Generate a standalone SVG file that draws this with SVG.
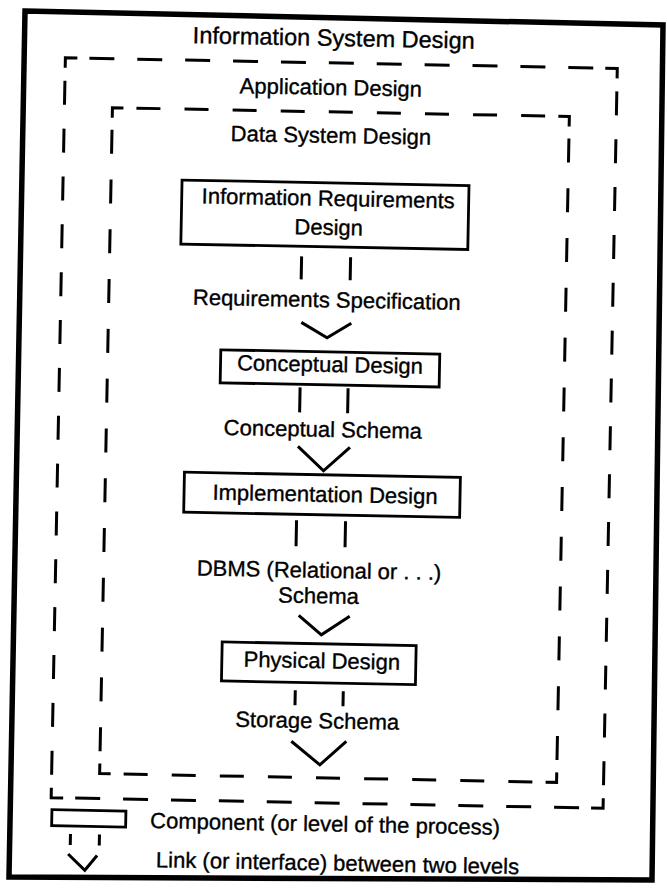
<svg xmlns="http://www.w3.org/2000/svg" width="667" height="891" viewBox="0 0 667 891">
<style>
.frame{fill:none;stroke:#000;stroke-width:5.5;stroke-linejoin:miter}
.dash{fill:none;stroke:#000;stroke-width:3}
.box{fill:#fff;stroke:#000;stroke-width:2.8}
.link{fill:none;stroke:#000;stroke-width:3}
.chev{fill:none;stroke:#000;stroke-width:3;stroke-linejoin:miter}
text{font-family:"Liberation Sans",Arial,Helvetica,sans-serif;font-size:22px;fill:#000;stroke:#000;stroke-width:0.35}
.c{text-anchor:middle}
</style>
<rect width="667" height="891" fill="#fff"/>
<path class="frame" d="M25,11 L663,25 L652,880 L9,877 Z"/>
<g transform="rotate(1.1 333 445)">
  <g id="information-system-design">
    <text class="c" x="326" y="46" style="font-size:23.5px">Information System Design</text>
  </g>
  <g id="application-design">
    <path class="dash" d="M58,73V63H70 M598,63H610V73 M58,793V803H70 M598,803H610V793"/>
    <line class="dash" x1="82" y1="63" x2="586" y2="63" stroke-dasharray="25 22.9"/>
    <line class="dash" x1="82" y1="803" x2="586" y2="803" stroke-dasharray="25 22.9"/>
    <line class="dash" x1="58" y1="86" x2="58" y2="780" stroke-dasharray="24 23.86"/>
    <line class="dash" x1="610" y1="86" x2="610" y2="780" stroke-dasharray="24 23.86"/>
    <text class="c" x="324" y="95">Application Design</text>
  </g>
  <g id="data-system-design">
    <path class="dash" d="M106,122V112H117 M552,112H563V122 M106,768V778H117 M552,778H563V768"/>
    <line class="dash" x1="130" y1="112" x2="539" y2="112" stroke-dasharray="24 24.1"/>
    <line class="dash" x1="130" y1="778" x2="539" y2="778" stroke-dasharray="24 24.1"/>
    <line class="dash" x1="106" y1="134" x2="106" y2="756" stroke-dasharray="24 25.8"/>
    <line class="dash" x1="563" y1="134" x2="563" y2="756" stroke-dasharray="24 25.8"/>
    <text class="c" x="325" y="143">Data System Design</text>
  </g>
  <g id="information-requirements-design">
    <rect class="box" x="177" y="183" width="287" height="64"/>
    <text class="c" x="323.5" y="206">Information Requirements</text>
    <text class="c" x="324.5" y="235">Design</text>
  </g>
  <g id="conceptual-design">
    <rect class="box" x="219" y="352" width="219" height="33"/>
    <text class="c" x="328.5" y="372">Conceptual Design</text>
  </g>
  <g id="implementation-design">
    <rect class="box" x="185" y="475" width="276" height="40"/>
    <text class="c" x="326" y="502">Implementation Design</text>
  </g>
  <g id="physical-design">
    <rect class="box" x="226" y="644" width="194" height="39"/>
    <text class="c" x="326" y="668.5">Physical Design</text>
  </g>
  <g id="connectors">
    <path class="link" d="M298,257V280 M347,257V280"/>
    <text class="c" x="324" y="307.5">Requirements Specification</text>
    <path class="chev" d="M299,323L325,338L349,323"/>
    <path class="link" d="M299,388V413 M347,388V413"/>
    <text class="c" x="322.5" y="437">Conceptual Schema</text>
    <path class="chev" d="M298,447L324,471L350,447"/>
    <path class="link" d="M298,521V547 M347,521V547"/>
    <text class="c" x="321.5" y="578">DBMS (Relational or . . .)</text>
    <text class="c" x="321.5" y="603.5">Schema</text>
    <path class="chev" d="M302,616L325,635L353,616"/>
    <path class="link" d="M300,691V706 M348,691V706"/>
    <text class="c" x="322.5" y="728.5">Storage Schema</text>
    <path class="chev" d="M297,742L326,765L352,741"/>
  </g>
  <g id="legend">
    <rect class="box" x="59" y="815" width="74" height="16"/>
    <text x="157.5" y="831.5">Component (or level of the process)</text>
    <path class="link" d="M78,839V850 M107,839V850"/>
    <path class="chev" d="M76,859L93,875L105,860"/>
    <text x="164" y="870.5">Link (or interface) between two levels</text>
  </g>
</g>
</svg>
